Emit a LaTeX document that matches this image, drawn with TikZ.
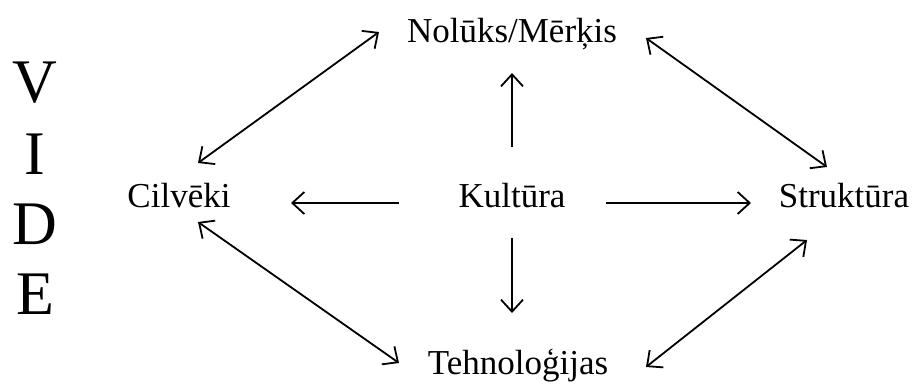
\documentclass[tikz,border=0pt]{standalone}
\usepackage{fontspec}
\setmainfont{Liberation Serif}
\usetikzlibrary{arrows.meta}
\begin{document}
\begin{tikzpicture}[x=1pt,y=1pt,
			every node/.style={anchor=base,inner sep=0pt,font=\fontsize{35}{40}\selectfont},
			vide/.style={font=\fontsize{62}{70}\selectfont},
			tip/.style={-{Straight Barb[length=12pt,width=22pt,line width=1.8pt]}},
			arr/.style={line width=1.8pt,tip},
			dbl/.style={line width=1.8pt,{Straight Barb[length=12pt,width=22pt,line width=1.8pt]}-{Straight Barb[length=12pt,width=22pt,line width=1.8pt]}}]
\useasboundingbox (0,0) rectangle (913,385);
% vide
\node[vide] (v) at (35,282) {V};
\node[vide] (i) at (35,210) {I};
\node[vide] (d) at (35,140) {D};
\node[vide] (e) at (35,70) {E};
% elementi
\node (kult) at (512,177) {Kultūra};
\node (nol) at (512,342) {Nolūks/Mērķis};
\node (cil) at (179,177) {Cilvēki};
\node (str) at (844,177) {Struktūra};
\node (teh) at (518,10) {Tehnoloģijas};
% no kultūras
\draw[arr] ([yshift=61]kult.base) -- ([yshift=-30]kult.base |- nol.base);
\draw[arr] ([yshift=-30]kult.base) -- ([yshift=62]kult.base |- teh.base);
\draw[arr] ([shift={(-113,5)}]kult.base) -- ([shift={(112,5)}]cil.base);
\draw[arr] ([shift={(94,5)}]kult.base) -- ([shift={(-93,5)}]str.base);
% savstarpēji
\draw[dbl] ([shift={(19,45)}]cil.base) -- ([shift={(-133,11)}]nol.base);
\draw[dbl] ([shift={(134,5)}]nol.base) -- ([shift={(-17,41)}]str.base);
\draw[dbl] ([shift={(19,-14)}]cil.base) -- ([shift={(-119,12)}]teh.base);
\draw[dbl] ([shift={(-37,-32)}]str.base) -- ([shift={(128,8)}]teh.base);
\end{tikzpicture}
\end{document}
